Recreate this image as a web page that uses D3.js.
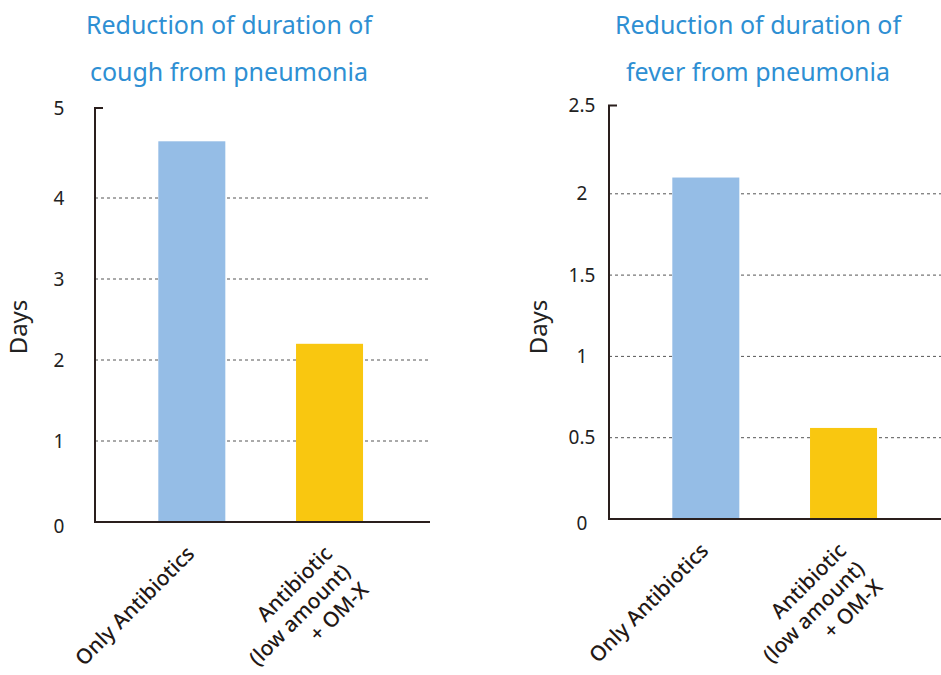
<!DOCTYPE html>
<html>
<head>
<meta charset="utf-8">
<script src="https://cdn.jsdelivr.net/npm/d3@7"></script>
<style>
  html, body { margin: 0; padding: 0; background: #fff; }
  svg { display: block; }
</style>
</head>
<body>
<svg id="chart" width="941" height="675"></svg>
<script>
// ---- data ----
const categories = ["Only Antibiotics", "Antibiotic|(low amount)|+ OM-X"];
const coughDays = [4.7, 2.2];
const feverDays = [2.1, 0.56];
const coughTicks = [0, 1, 2, 3, 4, 5];
const feverTicks = [0, 0.5, 1, 1.5, 2, 2.5];
const coughTitle = ["Reduction of duration of", "cough from pneumonia"];
const feverTitle = ["Reduction of duration of", "fever from pneumonia"];
const yTitle = "Days";
const barColors = ["#95bde6", "#f9c710"];

const svg = d3.select("#chart");
const axisColor = "#2a1f1d";
const titleColor = "#2e8fd3";
const textColor = "#231815";

function drawChart(o) {
  const g = svg.append("g");
  const y = d3.scaleLinear().domain([0, d3.max(o.ticks)]).range([o.y0, o.y1]);
  const x = d3.scaleBand().domain(categories).range([o.x0, o.x2])
    .paddingInner(0.5134).paddingOuter(0.473).align(0.486);

  // gridlines
  g.selectAll("line.grid").data(o.ticks.filter(t => t > 0 && t < d3.max(o.ticks)))
    .join("line").attr("class", "grid")
    .attr("x1", o.x0).attr("x2", o.xEnd)
    .attr("y1", d => y(d)).attr("y2", d => y(d))
    .attr("stroke", "#555").attr("stroke-width", 1)
    .attr("stroke-dasharray", "3,3");

  // bars
  g.selectAll("rect.bar").data(o.values).join("rect").attr("class", "bar")
    .attr("x", (d, i) => x(categories[i]))
    .attr("width", x.bandwidth())
    .attr("y", d => y(d))
    .attr("height", d => y(0) - y(d))
    .attr("fill", (d, i) => barColors[i]);

  // axes
  const top = y(d3.max(o.ticks)) - o.overshoot;
  g.append("path")
    .attr("d", `M${o.x0 + 8},${top}H${o.x0}V${y(0)}H${o.xEnd}`)
    .attr("fill", "none").attr("stroke", axisColor).attr("stroke-width", 2);

  // tick labels
  g.selectAll("text.tick").data(o.ticks).join("text").attr("class", "tick")
    .attr("x", o.labelX)
    .attr("y", d => d === d3.max(o.ticks) ? top : y(d))
    .attr("dy", d => d === 0 ? "0.6em" : "0.35em")
    .attr("text-anchor", "middle")
    .attr("font-family", "'Noto Sans', sans-serif")
    .attr("font-size", 19)
    .attr("fill", "#222")
    .text(d => d);

  // y title
  g.append("text")
    .attr("transform", `translate(${o.yTitleX},327) rotate(-90)`)
    .attr("text-anchor", "middle")
    .attr("font-family", "'Noto Sans', sans-serif")
    .attr("font-size", 24)
    .attr("fill", "#222")
    .text(yTitle);

  // title
  g.selectAll("text.title").data(o.title).join("text").attr("class", "title")
    .attr("x", o.titleX).attr("y", (d, i) => 34 + i * 47)
    .attr("text-anchor", "middle")
    .attr("font-family", "'Noto Sans', sans-serif")
    .attr("font-size", 25)
    .attr("fill", titleColor)
    .text(d => d);

  // x labels
  categories.forEach(c => {
    const cx = x(c) + x.bandwidth() / 2;
    const t = g.append("text")
      .attr("transform", `translate(${cx + 4},${y(0) + 33}) rotate(-45)`)
      .attr("text-anchor", "end")
      .attr("font-family", "'Noto Sans', sans-serif")
      .attr("font-weight", 500)
      .attr("font-size", 21)
      .attr("fill", textColor);
    c.split("|").forEach((line, i) => {
      t.append("tspan").attr("x", 0).attr("dy", i === 0 ? 0 : "1.22em").text(line);
    });
  });
}

drawChart({ values: coughDays, ticks: coughTicks, title: coughTitle,
  x0: 95, x2: 430, xEnd: 430, y0: 522, y1: 117, overshoot: 9,
  labelX: 59, yTitleX: 27, titleX: 229 });
drawChart({ values: feverDays, ticks: feverTicks, title: feverTitle,
  x0: 609, x2: 944, xEnd: 941, y0: 519, y1: 112.5, overshoot: 7,
  labelX: 582, yTitleX: 547, titleX: 758 });
</script>
</body>
</html>
